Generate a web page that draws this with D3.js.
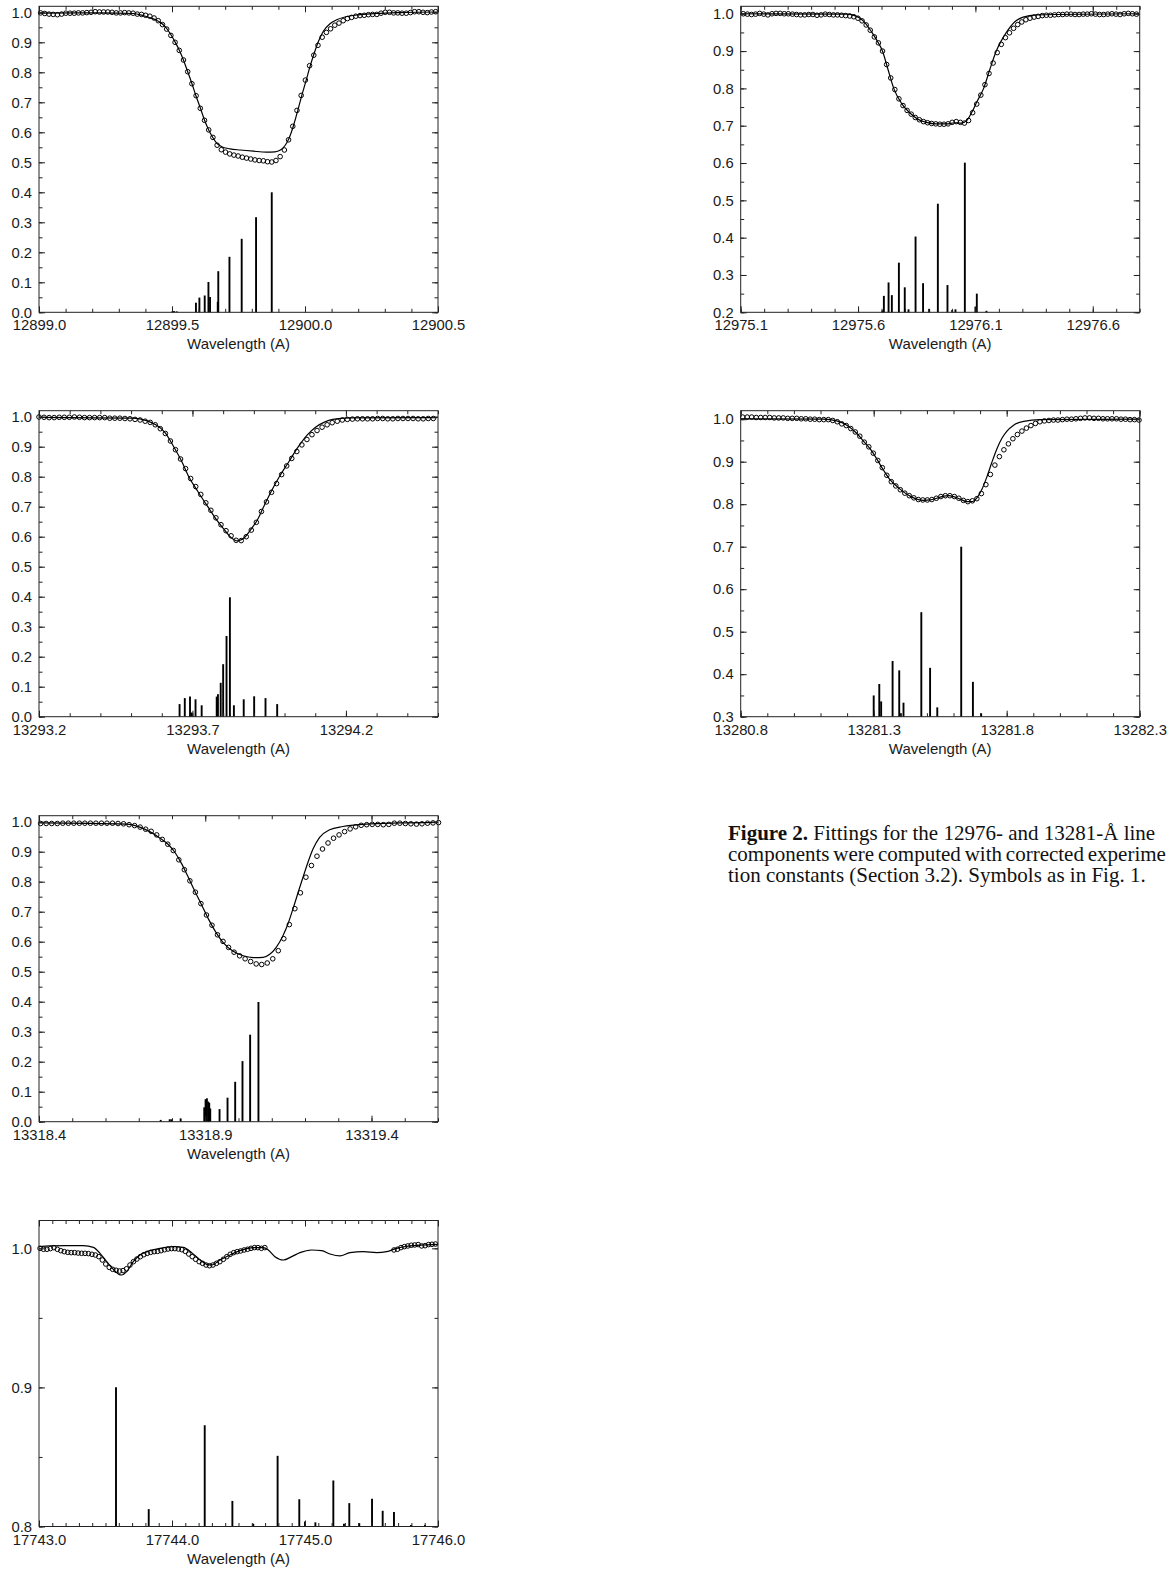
<!DOCTYPE html>
<html>
<head>
<meta charset="utf-8">
<script src="https://cdn.jsdelivr.net/npm/d3@7/dist/d3.min.js"></script>
<style>
  body { margin: 0; background: #fff; }
  svg { display: block; }
  .tick text { font-family: "Liberation Sans", Arial, sans-serif; font-size: 14.8px; fill: #1a1a1a; }
  .xtitle { font-family: "Liberation Sans", Arial, sans-serif; font-size: 15px; fill: #1a1a1a; }
  .caption { font-family: "Liberation Serif", "Times New Roman", serif; font-size: 21px; fill: #111; }
</style>
</head>
<body>
<svg id="fig"></svg>
<script>
// ---------- panel 1 : 12899 A ----------
var p1XLabels = [12899.0, 12899.5, 12900.0, 12900.5];
var p1YLabels = [0.0, 0.1, 0.2, 0.3, 0.4, 0.5, 0.6, 0.7, 0.8, 0.9, 1.0];
var p1ObsStart = 12899.006;
var p1ObsStep = 0.0158;
var p1Obs = [0.998,0.996,0.994,0.993,0.992,0.994,0.997,0.997,0.997,0.998,
  0.998,0.999,1.000,1.002,1.001,1.001,1.001,1.000,0.998,0.998,
  0.999,0.998,0.997,0.994,0.993,0.990,0.987,0.981,0.972,0.959,
  0.944,0.923,0.900,0.873,0.841,0.802,0.762,0.722,0.680,0.640,
  0.608,0.583,0.557,0.542,0.534,0.528,0.524,0.521,0.517,0.514,
  0.511,0.508,0.506,0.505,0.502,0.501,0.506,0.519,0.541,0.575,
  0.620,0.673,0.723,0.774,0.822,0.857,0.890,0.917,0.933,0.945,
  0.957,0.964,0.972,0.979,0.983,0.987,0.989,0.990,0.992,0.993,
  0.993,0.997,1.000,1.000,0.998,0.998,0.997,0.997,0.999,1.002,
  1.002,1.000,0.999,1.001,1.002];
var p1Model = [[12899.000,0.997],[12899.229,0.998],[12899.355,0.996],[12899.392,0.989],[12899.430,0.978],
  [12899.464,0.961],[12899.480,0.946],[12899.496,0.925],[12899.511,0.902],[12899.528,0.873],
  [12899.543,0.841],[12899.559,0.802],[12899.575,0.762],[12899.590,0.722],[12899.607,0.680],
  [12899.622,0.641],[12899.638,0.608],[12899.654,0.582],[12899.669,0.563],[12899.687,0.552],
  [12899.718,0.545],[12899.756,0.541],[12899.806,0.537],[12899.856,0.534],[12899.887,0.535],
  [12899.906,0.540],[12899.925,0.556],[12899.941,0.582],[12899.956,0.620],[12899.972,0.670],
  [12899.987,0.720],[12900.004,0.772],[12900.019,0.820],[12900.034,0.862],[12900.050,0.902],
  [12900.069,0.937],[12900.094,0.962],[12900.119,0.975],[12900.157,0.986],[12900.207,0.992],
  [12900.269,0.996],[12900.357,0.999],[12900.500,1.001]];
var p1Bars = [[12899.502,0.004],[12899.508,0.004],[12899.518,0.003],[12899.590,0.032],[12899.603,0.049],
  [12899.623,0.056],[12899.637,0.101],[12899.643,0.051],[12899.672,0.035],[12899.674,0.137],
  [12899.716,0.185],[12899.762,0.245],[12899.816,0.317],[12899.875,0.400]];

// ---------- panel 2 : 12976 A ----------
var p2XLabels = [12975.1, 12975.6, 12976.1, 12976.6];
var p2YLabels = [0.2, 0.3, 0.4, 0.5, 0.6, 0.7, 0.8, 0.9, 1.0];
var p2ObsStart = 12975.111;
var p2ObsStep = 0.01745;
var p2Obs = [1.000,0.999,0.998,0.999,1.001,0.999,0.997,1.000,1.001,1.001,
  1.000,1.000,0.999,0.998,0.997,0.997,0.998,0.998,0.996,0.997,
  0.999,0.998,0.997,0.997,0.996,0.995,0.994,0.992,0.988,0.981,
  0.970,0.956,0.938,0.922,0.900,0.864,0.828,0.797,0.772,0.754,
  0.741,0.731,0.722,0.716,0.711,0.708,0.706,0.705,0.704,0.704,
  0.705,0.709,0.711,0.709,0.707,0.714,0.735,0.758,0.782,0.810,
  0.840,0.868,0.896,0.918,0.936,0.949,0.961,0.971,0.978,0.984,
  0.988,0.991,0.993,0.995,0.996,0.996,0.997,0.998,0.998,0.999,
  0.999,0.998,0.998,0.999,0.999,1.000,0.999,0.998,0.998,0.999,
  1.000,0.999,0.998,1.000,1.001,1.000,0.999];
var p2Model = [[12975.100,1.000],[12975.551,0.999],[12975.594,0.993],[12975.622,0.981],[12975.657,0.952],
  [12975.679,0.930],[12975.704,0.900],[12975.728,0.850],[12975.752,0.800],[12975.785,0.760],
  [12975.821,0.734],[12975.856,0.717],[12975.891,0.709],[12975.934,0.705],[12975.977,0.705],
  [12976.012,0.708],[12976.040,0.707],[12976.065,0.715],[12976.083,0.734],[12976.107,0.765],
  [12976.135,0.800],[12976.161,0.850],[12976.189,0.900],[12976.232,0.950],[12976.267,0.978],
  [12976.303,0.991],[12976.360,0.997],[12976.796,1.000]];
var p2Bars = [[12975.704,0.205],[12975.710,0.244],[12975.730,0.280],[12975.744,0.246],[12975.774,0.333],
  [12975.799,0.267],[12975.815,0.208],[12975.845,0.403],[12975.877,0.278],[12975.903,0.209],
  [12975.940,0.491],[12975.981,0.273],[12976.001,0.206],[12976.015,0.208],[12976.055,0.601],
  [12976.100,0.215],[12976.106,0.250],[12976.147,0.204]];

// ---------- panel 3 : 13293 A ----------
var p3XLabels = [13293.2, 13293.7, 13294.2];
var p3YLabels = [0.0, 0.1, 0.2, 0.3, 0.4, 0.5, 0.6, 0.7, 0.8, 0.9, 1.0];
var p3ObsStart = 13293.200;
var p3ObsStep = 0.01647;
var p3Obs = [0.999,0.998,0.997,0.997,0.998,0.998,0.998,0.999,0.998,0.997,
  0.997,0.997,0.997,0.997,0.995,0.995,0.995,0.994,0.993,0.991,
  0.989,0.985,0.981,0.973,0.960,0.944,0.919,0.890,0.859,0.827,
  0.794,0.767,0.741,0.713,0.688,0.663,0.640,0.620,0.603,0.588,
  0.587,0.600,0.622,0.648,0.684,0.716,0.748,0.777,0.807,0.836,
  0.861,0.884,0.906,0.924,0.940,0.954,0.965,0.973,0.980,0.985,
  0.989,0.991,0.992,0.993,0.993,0.993,0.993,0.994,0.994,0.993,
  0.993,0.994,0.994,0.994,0.994,0.993,0.993,0.994,0.994];
var p3Model = [[13293.200,0.998],[13293.507,0.995],[13293.550,0.987],[13293.582,0.972],[13293.610,0.948],
  [13293.639,0.900],[13293.664,0.853],[13293.688,0.800],[13293.718,0.750],[13293.750,0.700],
  [13293.783,0.650],[13293.805,0.622],[13293.821,0.602],[13293.837,0.589],[13293.846,0.586],
  [13293.855,0.588],[13293.872,0.600],[13293.891,0.625],[13293.911,0.655],[13293.932,0.700],
  [13293.956,0.750],[13293.983,0.800],[13294.014,0.850],[13294.045,0.900],[13294.075,0.940],
  [13294.102,0.966],[13294.130,0.982],[13294.157,0.991],[13294.211,0.996],[13294.497,0.997]];
var p3Bars = [[13293.658,0.042],[13293.675,0.062],[13293.692,0.067],[13293.698,0.014],[13293.710,0.058],
  [13293.730,0.038],[13293.779,0.067],[13293.783,0.075],[13293.792,0.113],[13293.800,0.175],
  [13293.811,0.269],[13293.822,0.398],[13293.835,0.038],[13293.867,0.058],[13293.901,0.068],
  [13293.938,0.062],[13293.976,0.042]];

// ---------- panel 4 : 13281 A ----------
var p4XLabels = [13280.8, 13281.3, 13281.8, 13282.3];
var p4YLabels = [0.3, 0.4, 0.5, 0.6, 0.7, 0.8, 0.9, 1.0];
var p4ObsStart = 13280.8075;
var p4ObsStep = 0.01693;
var p4Obs = [1.005,1.005,1.005,1.004,1.004,1.004,1.004,1.003,1.003,1.003,
  1.002,1.002,1.002,1.001,1.001,1.000,1.000,0.999,0.999,0.999,
  0.997,0.994,0.989,0.985,0.978,0.970,0.960,0.946,0.935,0.920,
  0.903,0.886,0.868,0.853,0.843,0.834,0.826,0.820,0.815,0.811,
  0.810,0.810,0.811,0.814,0.818,0.820,0.820,0.818,0.814,0.809,
  0.806,0.808,0.813,0.825,0.846,0.870,0.892,0.912,0.928,0.942,
  0.954,0.964,0.972,0.979,0.985,0.990,0.994,0.996,0.997,0.998,
  0.998,0.999,1.000,1.000,1.001,1.002,1.003,1.003,1.002,1.002,
  1.001,1.001,1.001,1.001,1.000,1.000,0.999,0.999,0.998];
var p4Model = [[13280.800,1.001],[13281.111,1.000],[13281.161,0.996],[13281.199,0.986],[13281.236,0.967],
  [13281.262,0.948],[13281.287,0.930],[13281.312,0.906],[13281.337,0.880],[13281.362,0.857],
  [13281.387,0.842],[13281.412,0.829],[13281.437,0.819],[13281.462,0.812],[13281.487,0.809],
  [13281.512,0.810],[13281.537,0.814],[13281.563,0.819],[13281.581,0.820],[13281.600,0.818],
  [13281.625,0.812],[13281.650,0.806],[13281.669,0.806],[13281.688,0.815],[13281.707,0.835],
  [13281.726,0.865],[13281.744,0.898],[13281.763,0.930],[13281.782,0.955],[13281.801,0.972],
  [13281.826,0.986],[13281.864,0.995],[13281.926,0.999],[13282.300,1.000]];
var p4Bars = [[13281.300,0.350],[13281.321,0.377],[13281.328,0.336],[13281.371,0.431],[13281.396,0.409],
  [13281.402,0.308],[13281.412,0.333],[13281.479,0.546],[13281.512,0.415],[13281.539,0.322],
  [13281.629,0.700],[13281.673,0.382],[13281.704,0.308]];

// ---------- panel 5 : 13319 A ----------
var p5XLabels = [13318.4, 13318.9, 13319.4];
var p5YLabels = [0.0, 0.1, 0.2, 0.3, 0.4, 0.5, 0.6, 0.7, 0.8, 0.9, 1.0];
var p5ObsStart = 13318.405;
var p5ObsStep = 0.01662;
var p5Obs = [0.994,0.994,0.994,0.994,0.995,0.995,0.995,0.995,0.995,0.995,
  0.995,0.995,0.995,0.995,0.994,0.993,0.990,0.987,0.982,0.975,
  0.968,0.956,0.941,0.925,0.904,0.873,0.840,0.803,0.765,0.727,
  0.689,0.655,0.623,0.601,0.581,0.565,0.553,0.543,0.534,0.526,
  0.524,0.529,0.543,0.570,0.610,0.657,0.710,0.763,0.815,0.854,
  0.885,0.909,0.929,0.945,0.956,0.967,0.976,0.983,0.988,0.990,
  0.991,0.991,0.990,0.991,0.995,0.995,0.994,0.993,0.992,0.993,
  0.995,0.996,0.997];
var p5Model = [[13318.400,0.996],[13318.663,0.992],[13318.703,0.982],[13318.733,0.967],[13318.763,0.946],
  [13318.788,0.925],[13318.808,0.899],[13318.828,0.862],[13318.848,0.817],[13318.868,0.770],
  [13318.888,0.725],[13318.909,0.677],[13318.929,0.637],[13318.954,0.597],[13318.984,0.568],
  [13319.014,0.553],[13319.044,0.547],[13319.074,0.548],[13319.094,0.558],[13319.114,0.582],
  [13319.134,0.621],[13319.149,0.660],[13319.164,0.710],[13319.179,0.763],[13319.194,0.815],
  [13319.209,0.865],[13319.224,0.909],[13319.244,0.948],[13319.274,0.973],[13319.314,0.984],
  [13319.384,0.992],[13319.484,0.996],[13319.598,0.998]];
var p5Bars = [[13318.766,0.006],[13318.793,0.008],[13318.798,0.008],[13318.826,0.011],[13318.897,0.048],
  [13318.901,0.075],[13318.905,0.078],[13318.909,0.067],[13318.912,0.063],[13318.915,0.044],
  [13318.943,0.042],[13318.967,0.080],[13318.990,0.133],[13319.012,0.202],[13319.035,0.290],
  [13319.060,0.399]];

// ---------- panel 6 : 17744 A ----------
var p6XLabels = [17743.0, 17744.0, 17745.0, 17746.0];
var p6YLabels = [0.8, 0.9, 1.0];
// observed spectrum has a gap, two stretches
var p6ObsAStart = 17743.008;
var p6ObsBStart = 17745.669;
var p6ObsStep = 0.026;
var p6ObsA = [1.0000,0.9993,0.9993,0.9998,1.0005,0.9993,0.9983,0.9976,0.9971,0.9969,
  0.9969,0.9966,0.9964,0.9964,0.9962,0.9957,0.9952,0.9940,0.9916,0.9887,
  0.9863,0.9849,0.9842,0.9837,0.9840,0.9853,0.9880,0.9904,0.9923,0.9940,
  0.9954,0.9964,0.9971,0.9976,0.9978,0.9983,0.9990,0.9995,0.9998,0.9998,
  0.9995,0.9990,0.9978,0.9959,0.9940,0.9921,0.9904,0.9892,0.9880,0.9875,
  0.9880,0.9892,0.9904,0.9921,0.9940,0.9957,0.9969,0.9976,0.9981,0.9988,
  0.9993,1.0000,1.0005,1.0005,1.0000,1.0005];
var p6ObsB = [0.9988,0.9993,1.0005,1.0012,1.0017,1.0022,1.0024,1.0027,1.0017,1.0019,1.0027,1.0029,1.0031];
var p6Model = [[17743.000,1.0012],[17743.083,1.0017],[17743.208,1.0019],[17743.333,1.0019],[17743.409,1.0007],
  [17743.459,0.9964],[17743.509,0.9904],[17743.559,0.9849],[17743.596,0.9816],[17743.622,0.9808],
  [17743.659,0.9832],[17743.709,0.9904],[17743.759,0.9952],[17743.835,0.9983],[17743.910,1.0000],
  [17744.010,1.0012],[17744.085,1.0007],[17744.148,0.9969],[17744.211,0.9916],[17744.261,0.9885],
  [17744.298,0.9880],[17744.361,0.9916],[17744.436,0.9952],[17744.511,0.9983],[17744.612,1.0005],
  [17744.687,1.0005],[17744.724,0.9988],[17744.774,0.9940],[17744.837,0.9916],[17744.900,0.9940],
  [17744.962,0.9969],[17745.050,0.9988],[17745.125,0.9983],[17745.188,0.9959],[17745.263,0.9945],
  [17745.338,0.9969],[17745.439,0.9976],[17745.539,0.9969],[17745.614,0.9976],[17745.689,1.0000],
  [17745.789,1.0017],[17745.890,1.0024],[17746.000,1.0029]];
var p6Bars = [[17743.579,0.9001],[17743.825,0.8125],[17744.246,0.8728],[17744.454,0.8184],[17744.611,0.8020],
  [17744.794,0.8508],[17744.957,0.8196],[17745.000,0.8036],[17745.078,0.8030],[17745.213,0.8331],
  [17745.293,0.8020],[17745.333,0.8168],[17745.408,0.8024],[17745.504,0.8199],[17745.584,0.8113],
  [17745.669,0.8105],[17745.797,0.8010],[17745.902,0.8010]];

// caption as far as it is visible in the scan (it runs off the page edge)
var captionLines = [
  ['Figure 2.', ' Fittings for the 12976- and 13281-\u00C5 line'],
  ['', 'components were computed with corrected experime'],
  ['', 'tion constants (Section 3.2). Symbols as in Fig. 1.']
];
var captionWordSpacing = [0, -1.4, 0];

var width = 1169;
var height = 1572;
var W = 399;   // plot frame size, same for all panels
var H = 306;

var svg = d3.select('#fig')
    .attr('width', width)
    .attr('height', height);
svg.append('rect').attr('width', width).attr('height', height).attr('fill', '#fff');

var fmt = d3.format('.1f');

function drawPanel(p) {
  var g = svg.append('g')
      .attr('transform', 'translate(' + p.left + ',' + p.top + ')');

  var x = d3.scaleLinear().domain(p.xDomain).range([0, W]);
  var y = d3.scaleLinear().domain(p.yDomain).range([H, 0]);

  //components: vertical sticks standing on the bottom axis
  g.selectAll('.bar')
    .data(p.bars)
    .enter()
    .append('line')
      .classed('bar', true)
      .attr('x1', d => x(d[0]))
      .attr('x2', d => x(d[0]))
      .attr('y1', H)
      .attr('y2', d => y(d[1]))
      .attr('stroke', '#000')
      .attr('stroke-width', 1.9);

  //synthetic profile
  var line = d3.line()
               .x(d => x(d[0]))
               .y(d => y(d[1]))
               .curve(d3.curveMonotoneX);
  g.append('path')
    .datum(p.model)
    .attr('fill', 'none')
    .attr('stroke', '#000')
    .attr('stroke-width', 1.2)
    .attr('d', line);

  //observed spectrum, open circles
  p.obs.forEach(function (s) {
    g.append('g')
      .selectAll('circle')
      .data(s.values)
      .enter()
      .append('circle')
        .attr('cx', (d, i) => x(s.start + i * s.step))
        .attr('cy', d => y(d))
        .attr('r', 2.3)
        .attr('fill', 'none')
        .attr('stroke', '#000')
        .attr('stroke-width', 1);
  });

  //ticks on all four sides, pointing inwards
  var xMinor = x.ticks(Math.round((p.xDomain[1] - p.xDomain[0]) / 0.1));
  var yMinor = y.ticks(Math.round((p.yDomain[1] - p.yDomain[0]) / 0.05));

  var axes = [
    [d3.axisBottom(x).tickValues(xMinor).tickSize(-3.5).tickFormat(''), 0, H],
    [d3.axisTop(x).tickValues(xMinor).tickSize(-3.5).tickFormat(''), 0, 0],
    [d3.axisTop(x).tickValues(p.xLabels).tickSize(-6).tickFormat(''), 0, 0],
    [d3.axisBottom(x).tickValues(p.xLabels).tickSize(-6).tickPadding(7.5).tickFormat(fmt), 0, H],
    [d3.axisLeft(y).tickValues(yMinor).tickSize(-3.5).tickFormat(''), 0, 0],
    [d3.axisRight(y).tickValues(yMinor).tickSize(-3.5).tickFormat(''), W, 0],
    [d3.axisRight(y).tickValues(p.yLabels).tickSize(-6).tickFormat(''), W, 0],
    [d3.axisLeft(y).tickValues(p.yLabels).tickSize(-6).tickPadding(7).tickFormat(fmt), 0, 0]
  ];
  axes.forEach(function (a) {
    g.append('g')
      .attr('transform', 'translate(' + a[1] + ',' + a[2] + ')')
      .style('color', '#222')
      .call(a[0])
      .select('.domain').remove();
  });

  //frame
  g.append('rect')
    .attr('width', W)
    .attr('height', H)
    .attr('fill', 'none')
    .attr('stroke', '#222')
    .attr('stroke-width', 1);

  g.append('text')
    .classed('xtitle', true)
    .attr('x', W / 2)
    .attr('y', H + 37)
    .attr('text-anchor', 'middle')
    .text('Wavelength (A)');
}

var panels = [
  { left: 39, top: 6.3, xDomain: [12899.0, 12900.5], yDomain: [0, 1.02],
    xLabels: p1XLabels, yLabels: p1YLabels, model: p1Model, bars: p1Bars,
    obs: [{ start: p1ObsStart, step: p1ObsStep, values: p1Obs }] },
  { left: 740.7, top: 6.3, xDomain: [12975.1, 12976.8], yDomain: [0.2, 1.02],
    xLabels: p2XLabels, yLabels: p2YLabels, model: p2Model, bars: p2Bars,
    obs: [{ start: p2ObsStart, step: p2ObsStep, values: p2Obs }] },
  { left: 39, top: 410.7, xDomain: [13293.2, 13294.5], yDomain: [0, 1.02],
    xLabels: p3XLabels, yLabels: p3YLabels, model: p3Model, bars: p3Bars,
    obs: [{ start: p3ObsStart, step: p3ObsStep, values: p3Obs }] },
  { left: 740.7, top: 410.7, xDomain: [13280.8, 13282.3], yDomain: [0.3, 1.02],
    xLabels: p4XLabels, yLabels: p4YLabels, model: p4Model, bars: p4Bars,
    obs: [{ start: p4ObsStart, step: p4ObsStep, values: p4Obs }] },
  { left: 39, top: 815.7, xDomain: [13318.4, 13319.6], yDomain: [0, 1.02],
    xLabels: p5XLabels, yLabels: p5YLabels, model: p5Model, bars: p5Bars,
    obs: [{ start: p5ObsStart, step: p5ObsStep, values: p5Obs }] },
  { left: 39, top: 1220.5, xDomain: [17743.0, 17746.0], yDomain: [0.8, 1.02],
    xLabels: p6XLabels, yLabels: p6YLabels, model: p6Model, bars: p6Bars,
    obs: [{ start: p6ObsAStart, step: p6ObsStep, values: p6ObsA },
          { start: p6ObsBStart, step: p6ObsStep, values: p6ObsB }] }
];
panels.forEach(drawPanel);

//figure caption, set in a serif face
var capX = 728;
var capY = 840;
var cap = svg.append('text')
    .classed('caption', true)
    .attr('x', capX)
    .attr('y', capY);
captionLines.forEach(function (l, i) {
  var t = cap.append('tspan')
      .attr('x', capX)
      .attr('y', capY + i * 21)
      .attr('word-spacing', captionWordSpacing[i]);
  if (l[0]) t.append('tspan').attr('font-weight', 'bold').text(l[0]);
  t.append('tspan').text(l[1]);
});
</script>
</body>
</html>
